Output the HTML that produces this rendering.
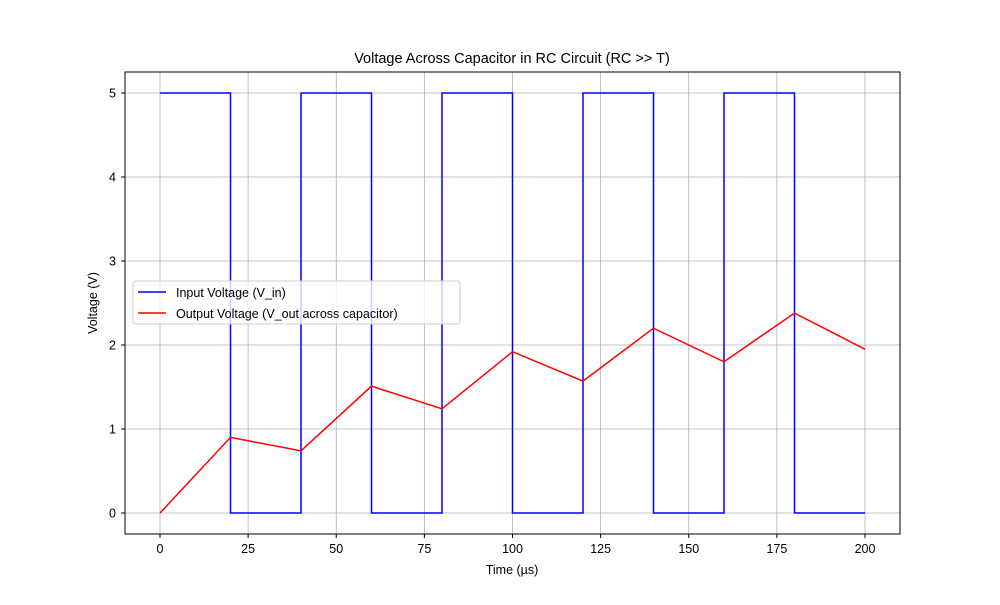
<!DOCTYPE html>
<html><head><meta charset="utf-8"><style>
body{margin:0;background:#fff}
svg text{font-family:"Liberation Sans","DejaVu Sans",sans-serif;fill:#000}
</style></head><body>
<svg id="chart" width="1000" height="600" viewBox="0 0 1000 600">
<rect x="0" y="0" width="1000" height="600" fill="#fff"/>
<g id="grid"></g>
<g id="series"></g>
<rect x="125" y="72" width="775" height="462" fill="none" stroke="#000" stroke-width="1"/>
<g id="ticks"></g>
<text x="512" y="63" font-size="14.5" text-anchor="middle">Voltage Across Capacitor in RC Circuit (RC &gt;&gt; T)</text>
<text x="512" y="574" font-size="12.5" text-anchor="middle">Time (µs)</text>
<text transform="translate(97,303) rotate(-90)" font-size="12.5" text-anchor="middle">Voltage (V)</text>
<g>
<rect x="133" y="281" width="327" height="43" rx="3" fill="#fff" fill-opacity="0.8" stroke="#ccc"/>
<line x1="138" y1="292" x2="166" y2="292" stroke="#0000ff" stroke-width="1.5"/>
<text x="176" y="297" font-size="12.5">Input Voltage (V_in)</text>
<line x1="138" y1="313" x2="166" y2="313" stroke="#ff0000" stroke-width="1.5"/>
<text x="176" y="318" font-size="12.5">Output Voltage (V_out across capacitor)</text>
</g>
</svg>
<script>
const xTicks=[0,25,50,75,100,125,150,175,200];
const yTicks=[0,1,2,3,4,5];
const inputTimes=[0,20,40,60,80,100,120,140,160,180,200];
const inputLevels=[5,0,5,0,5,0,5,0,5,0];
const outputTimes=[0,20,40,60,80,100,120,140,160,180,200];
const outputValues=[0,0.9,0.74,1.51,1.24,1.92,1.57,2.2,1.8,2.38,1.95];
const NS="http://www.w3.org/2000/svg";
function X(v){return 160+v*3.525;}
function Y(v){return 513-v*84;}
const grid=document.getElementById('grid'),ticks=document.getElementById('ticks'),series=document.getElementById('series');
function mk(tag,attrs,parent){const e=document.createElementNS(NS,tag);for(const k in attrs)e.setAttribute(k,attrs[k]);parent.appendChild(e);return e;}
xTicks.forEach(t=>{
 const g=mk('line',{x1:X(t),x2:X(t),y1:72,y2:534,stroke:'#b0b0b0','stroke-width':0.8},grid);
 
 
 mk('line',{x1:X(t),x2:X(t),y1:534,y2:538,stroke:'#000'},ticks);
 const tx=mk('text',{x:X(t),y:553,'font-size':12.5,'text-anchor':'middle'},ticks);tx.textContent=t;
 
 
});
yTicks.forEach(t=>{
 const g=mk('line',{x1:125,x2:900,y1:Y(t),y2:Y(t),stroke:'#b0b0b0','stroke-width':0.8},grid);
 
 
 mk('line',{x1:121,x2:125,y1:Y(t),y2:Y(t),stroke:'#000'},ticks);
 const tx=mk('text',{x:116,y:Y(t)+4.5,'font-size':12.5,'text-anchor':'end'},ticks);tx.textContent=t;
 
 
});
let d='';
inputLevels.forEach((lv,i)=>{d+=(i?'L':'M')+X(inputTimes[i])+','+Y(lv)+'L'+X(inputTimes[i+1])+','+Y(lv);});
const inp=mk('path',{d:d,fill:'none',stroke:'#0000ff','stroke-width':1.5},series);


const od=outputTimes.map((t,i)=>(i?'L':'M')+X(t)+','+Y(outputValues[i])).join('');
const out=mk('path',{d:od,fill:'none',stroke:'#ff0000','stroke-width':1.5},series);


</script>
</body></html>
